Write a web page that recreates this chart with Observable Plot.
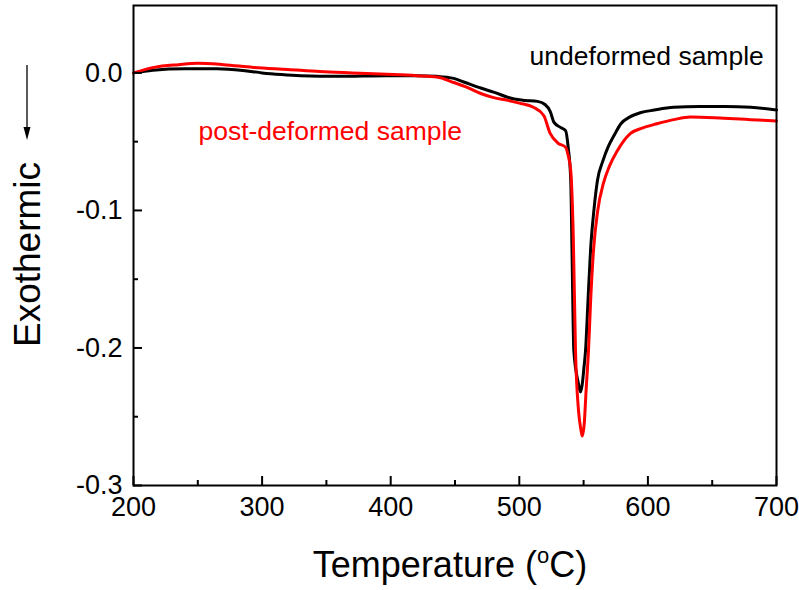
<!DOCTYPE html>
<html>
<head>
<meta charset="utf-8">
<script src="https://cdn.jsdelivr.net/npm/d3@7"></script>
<script src="https://cdn.jsdelivr.net/npm/@observablehq/plot@0.6"></script>
<style>
  html, body { margin: 0; padding: 0; background: #fff; }
  #chart { width: 799px; height: 590px; }
</style>
</head>
<body>
<div id="chart"></div>
<script>
// Undeformed sample (black)
const undeformedT = [200,215,240,265,285,300,315,330,360,397,420,436,449,458,470,480,496,505,514,520,524,527,532,536,538,540,541,542.4,546,547.6,549,550.3,551.5,553.4,555.4,558,560.8,565,569,574,579,586,594,605,620,640,660,680,700];
const undeformedV = [0,0.002,0.003,0.003,0.0018,0.0,-0.0012,-0.002,-0.0025,-0.002,-0.002,-0.0025,-0.004,-0.007,-0.011,-0.014,-0.019,-0.020,-0.0207,-0.023,-0.028,-0.036,-0.0396,-0.042,-0.054,-0.078,-0.13,-0.202,-0.226,-0.232,-0.226,-0.214,-0.202,-0.166,-0.129,-0.10,-0.078,-0.064,-0.054,-0.045,-0.037,-0.032,-0.029,-0.027,-0.025,-0.0245,-0.0245,-0.025,-0.027];

// Post-deformed sample (red)
const postT = [200,216,235,250,270,293,320,345,370,397,420,436,449,458,470,480,491,500,511,519,524,530,536,538,540,542,543.7,546,548,549,550.5,552,553.8,555.5,557.7,561,565.5,570,576,586.5,596,607,620,633,659,680,700];
const postV = [0,0.004,0.006,0.007,0.006,0.004,0.0025,0.001,0,-0.001,-0.002,-0.003,-0.007,-0.010,-0.015,-0.018,-0.020,-0.022,-0.025,-0.031,-0.044,-0.051,-0.054,-0.060,-0.071,-0.12,-0.202,-0.245,-0.26,-0.264,-0.255,-0.23,-0.202,-0.165,-0.129,-0.10,-0.080,-0.068,-0.057,-0.044,-0.040,-0.037,-0.034,-0.032,-0.033,-0.034,-0.035];

const xMajorTicks = [200,300,400,500,600,700];
const xMinorTicks = [250,350,450,550,650];
const yMajorTicks = [0.0,-0.1,-0.2,-0.3];
const yMinorTicks = [-0.05,-0.15,-0.25];

const seriesLabels = ["undeformed sample", "post-deformed sample"];
const labelT = [508, 250.5];
const labelV = [0.0055, -0.049];
const labelColors = ["#000000", "#ff0000"];

const undeformed = undeformedT.map((t, i) => ({T: t, v: undeformedV[i]}));
const post = postT.map((t, i) => ({T: t, v: postV[i]}));
const labels = seriesLabels.map((s, i) => ({text: s, T: labelT[i], v: labelV[i], c: labelColors[i]}));

const font = "Arial, 'Liberation Sans', sans-serif";

const chart = Plot.plot({
  width: 799,
  height: 590,
  marginLeft: 133,
  marginRight: 23,
  marginTop: 5,
  marginBottom: 105,
  style: {fontFamily: font, fontSize: "27px", background: "#fff", color: "#000"},
  x: {domain: [200, 700]},
  y: {domain: [-0.3, 0.049]},
  marks: [
    Plot.line(undeformed, {x: "T", y: "v", stroke: "#000", strokeWidth: 3, curve: "monotone-x"}),
    Plot.line(post, {x: "T", y: "v", stroke: "#ff0000", strokeWidth: 3, curve: "monotone-x"}),
    Plot.text(labels, {x: "T", y: "v", text: "text", fill: "c", textAnchor: "start", lineAnchor: "bottom", fontSize: 26.5}),
    Plot.frame({stroke: "#000", strokeWidth: 2}),
    Plot.axisX({ticks: xMajorTicks, tickSize: -9, strokeWidth: 2, tickFormat: () => "", label: null}),
    Plot.axisX({ticks: xMinorTicks, tickSize: -5, strokeWidth: 2, tickFormat: () => "", label: null}),
    Plot.axisX({ticks: xMajorTicks, tickSize: 0, tickPadding: 11, tickFormat: d => String(d), label: null, fontSize: 27}),
    Plot.axisY({ticks: yMajorTicks, tickSize: -9, strokeWidth: 2, tickFormat: () => "", label: null}),
    Plot.axisY({ticks: yMinorTicks, tickSize: -5, strokeWidth: 2, tickFormat: () => "", label: null}),
    Plot.axisY({ticks: yMajorTicks, tickSize: 0, tickPadding: 11, tickFormat: d => d.toFixed(1), label: null, fontSize: 27})
  ]
});

document.getElementById("chart").appendChild(chart);

// Axis titles and the exothermic arrow annotation
const svg = d3.select(chart);
const xt = svg.append("text")
  .attr("x", 450).attr("y", 577)
  .attr("text-anchor", "middle")
  .attr("font-family", font).attr("font-size", 36).attr("fill", "#000");
xt.append("tspan").text("Temperature (");
xt.append("tspan").attr("font-size", 22).attr("dy", -14).text("o");
xt.append("tspan").attr("dy", 14).text("C)");

svg.append("text")
  .attr("transform", "translate(40,254.5) rotate(-90)")
  .attr("text-anchor", "middle")
  .attr("font-family", font).attr("font-size", 37).attr("fill", "#000")
  .text("Exothermic");

svg.append("line")
  .attr("x1", 27).attr("x2", 27).attr("y1", 65).attr("y2", 130)
  .attr("stroke", "#000").attr("stroke-width", 1.3);
svg.append("path")
  .attr("d", "M23.5,127 L30.5,127 L27,140 Z")
  .attr("fill", "#000");
</script>
</body>
</html>
